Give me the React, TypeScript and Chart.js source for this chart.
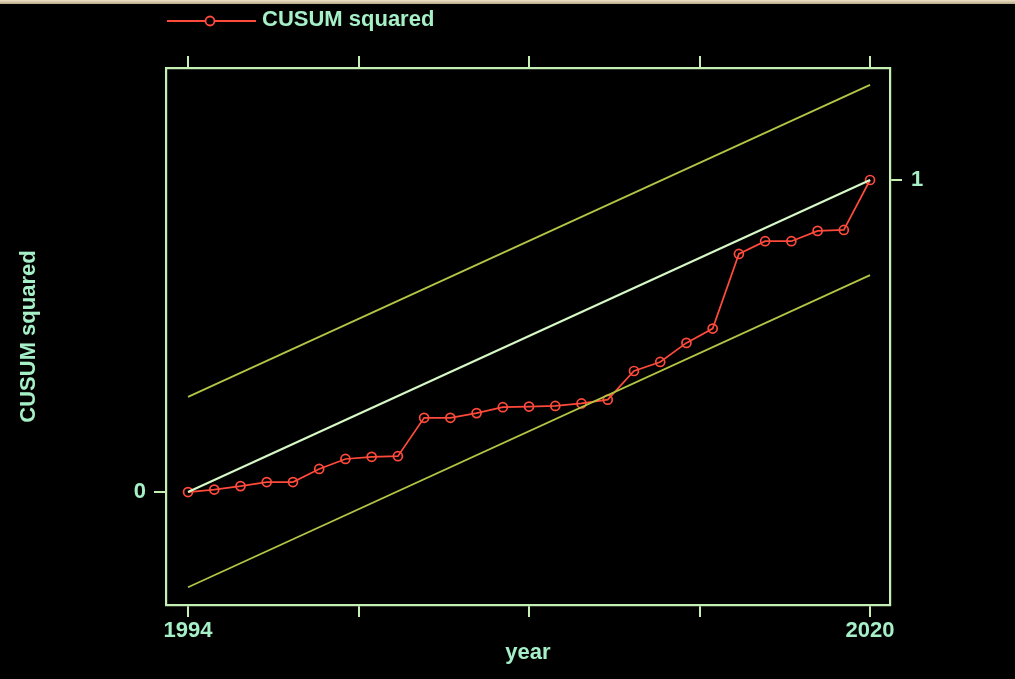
import React, { useEffect, useRef } from 'react';
import { Chart, registerables } from 'chart.js';

Chart.register(...registerables);

// ---- data ----
const years = [
  1994, 1995, 1996, 1997, 1998, 1999, 2000, 2001, 2002, 2003, 2004, 2005, 2006, 2007,
  2008, 2009, 2010, 2011, 2012, 2013, 2014, 2015, 2016, 2017, 2018, 2019, 2020,
];
const cusumSquared = [
  0, 0.008, 0.019, 0.032, 0.032, 0.074, 0.106, 0.113, 0.115, 0.238, 0.238, 0.253, 0.272, 0.274,
  0.276, 0.284, 0.296, 0.388, 0.417, 0.478, 0.524, 0.763, 0.804, 0.804, 0.837, 0.840, 1.0,
];
const lineYears = [1994, 2020];
const expectedLine = [0, 1];
const upperBound = [0.305, 1.305];
const lowerBound = [-0.305, 0.695];
const xTickValues = [1994, 2000.5, 2007, 2013.5, 2020];
const xTickLabels = ['1994', '', '', '', '2020'];
const leftTickValues = [0];
const rightTickValues = [1];
const seriesLabel = 'CUSUM squared';
const xTitle = 'year';
const yTitle = 'CUSUM squared';

// ---- styles ----
const FRAME = '#c4f0b4';
const TEXT = '#a6f0c8';
const CENTER = '#d6f8c6';
const BOUND = '#b4c444';
const RED = '#ff4a3c';
const FONT = { family: "'Liberation Sans', Arial, sans-serif", size: 22, weight: 'bold' as const };

const legendPlugin = {
  id: 'topLegend',
  afterDraw(chart: any) {
    const ctx = chart.ctx;
    ctx.save();
    ctx.strokeStyle = RED;
    ctx.lineWidth = 1.8;
    ctx.beginPath();
    ctx.moveTo(167, 21);
    ctx.lineTo(256, 21);
    ctx.stroke();
    ctx.beginPath();
    ctx.arc(210, 21, 4.5, 0, Math.PI * 2);
    ctx.fillStyle = '#000';
    ctx.fill();
    ctx.stroke();
    ctx.fillStyle = TEXT;
    ctx.font = `bold ${FONT.size}px ${FONT.family}`;
    ctx.textBaseline = 'middle';
    ctx.textAlign = 'left';
    ctx.fillText(seriesLabel, 262, 20);
    ctx.restore();
  },
};

function axisBase(min: number, max: number) {
  return {
    type: 'linear' as const,
    min,
    max,
    grid: {
      display: true,
      drawOnChartArea: false,
      drawTicks: true,
      tickLength: 12,
      color: FRAME,
      lineWidth: 2,
    },
    border: { display: true, color: FRAME, width: 2.2 },
  };
}

export default function App() {
  const ref = useRef<HTMLCanvasElement | null>(null);

  useEffect(() => {
    document.body.style.margin = '0';
    document.body.style.background = '#000';
    const canvas = ref.current;
    if (!canvas) return;

    const xMin = 1993.16;
    const xMax = 2020.76;
    const yMin = -0.362;
    const yMax = 1.359;

    const chart = new Chart(canvas, {
      type: 'line',
      data: {
        datasets: [
          {
            label: 'upper',
            data: lineYears.map((x, i) => ({ x, y: upperBound[i] })),
            borderColor: BOUND,
            borderWidth: 1.8,
            pointRadius: 0,
            xAxisID: 'x',
            yAxisID: 'y',
          },
          {
            label: 'lower',
            data: lineYears.map((x, i) => ({ x, y: lowerBound[i] })),
            borderColor: BOUND,
            borderWidth: 1.8,
            pointRadius: 0,
            xAxisID: 'x',
            yAxisID: 'y',
          },
          {
            label: 'expected',
            data: lineYears.map((x, i) => ({ x, y: expectedLine[i] })),
            borderColor: CENTER,
            borderWidth: 2.2,
            pointRadius: 0,
            xAxisID: 'x',
            yAxisID: 'y',
          },
          {
            label: seriesLabel,
            data: years.map((x, i) => ({ x, y: cusumSquared[i] })),
            borderColor: RED,
            borderWidth: 1.7,
            pointRadius: 4.5,
            pointBorderWidth: 1.7,
            pointBorderColor: RED,
            pointBackgroundColor: 'rgba(0,0,0,0)',
            xAxisID: 'x',
            yAxisID: 'y',
          },
        ],
      },
      options: {
        responsive: false,
        animation: false,
        layout: { padding: 0 },
        plugins: {
          legend: { display: false },
          tooltip: { enabled: false },
        },
        scales: {
          x: {
            ...axisBase(xMin, xMax),
            position: 'bottom',
            afterBuildTicks: (s: any) => {
              s.ticks = xTickValues.map((v) => ({ value: v }));
            },
            afterFit: (s: any) => {
              s.height = 74;
            },
            ticks: {
              autoSkip: false,
              maxRotation: 0,
              color: TEXT,
              font: FONT,
              padding: 1,
              callback: (_v: any, i: number) => xTickLabels[i],
            },
            title: {
              display: true,
              text: xTitle,
              color: TEXT,
              font: FONT,
              padding: { top: 0, bottom: 13 },
            },
          },
          xTop: {
            ...axisBase(xMin, xMax),
            position: 'top',
            afterBuildTicks: (s: any) => {
              s.ticks = xTickValues.map((v) => ({ value: v }));
            },
            afterFit: (s: any) => {
              s.height = 68;
            },
            ticks: { autoSkip: false, maxRotation: 0, callback: () => '' },
          },
          y: {
            ...axisBase(yMin, yMax),
            position: 'left',
            afterBuildTicks: (s: any) => {
              s.ticks = leftTickValues.map((v) => ({ value: v }));
            },
            afterFit: (s: any) => {
              s.width = 166;
            },
            ticks: {
              color: TEXT,
              font: FONT,
              padding: 8,
              callback: (v: any) => String(v),
            },
            title: {
              display: true,
              text: yTitle,
              color: TEXT,
              font: FONT,
              padding: { top: 16, bottom: 0 },
            },
          },
          yRight: {
            ...axisBase(yMin, yMax),
            position: 'right',
            afterBuildTicks: (s: any) => {
              s.ticks = rightTickValues.map((v) => ({ value: v }));
            },
            afterFit: (s: any) => {
              s.width = 125;
            },
            ticks: {
              color: TEXT,
              font: FONT,
              padding: 9,
              callback: (v: any) => String(v),
            },
          },
        },
      } as any,
      plugins: [legendPlugin],
    });

    return () => chart.destroy();
  }, []);

  return (
    <div style={{ position: 'fixed', left: 0, top: 0, width: 1015, height: 679, background: '#000' }}>
      <div
        style={{
          position: 'absolute',
          left: 0,
          top: 0,
          width: 1015,
          height: 4,
          background: 'linear-gradient(#efe3c6, #b8a88a)',
        }}
      />
      <canvas ref={ref} width={1015} height={679} style={{ display: 'block' }} />
    </div>
  );
}
